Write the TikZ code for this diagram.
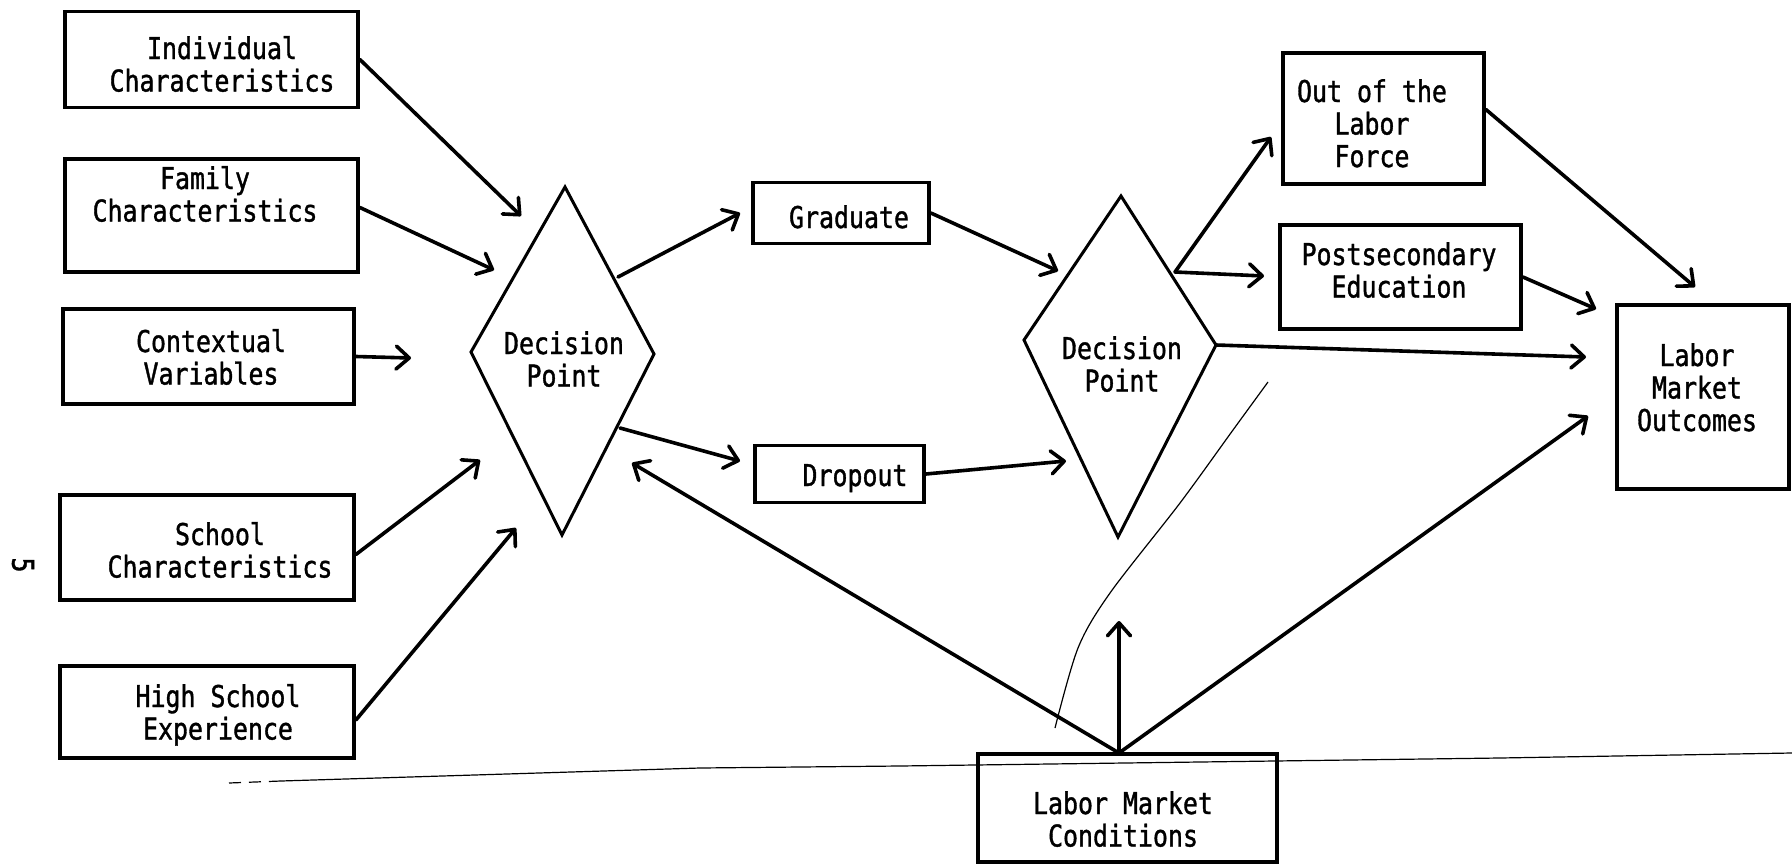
\documentclass[tikz,border=0pt]{standalone}
\usepackage{fontspec}
\usetikzlibrary{arrows.meta}
\newfontfamily\tw[FakeStretch=0.83,FakeBold=1.2]{DejaVu Sans Mono}
\begin{document}
\begin{tikzpicture}[x=1pt,y=-1pt,
  box/.style={draw, line width=3.8pt, inner sep=0pt},
  txt/.style={font={\tw\fontsize{30}{32.5}\selectfont}, align=center, anchor=base, inner sep=0pt},
  arr/.style={line width=3.6pt, line cap=round, -{Straight Barb[length=13pt,width=23pt,round]}},
  dia/.style={draw, line width=3pt, line join=miter},
  faint/.style={line width=1.2pt}]
\useasboundingbox (0,0) rectangle (1792,865);
\fill[white] (0,0) rectangle (1792,865);

% left boxes
\node[box, minimum width=293pt, minimum height=96pt] (ind) at (211.5,59.5) {};
\node[box, minimum width=293pt, minimum height=113pt] (fam) at (211.5,215.5) {};
\node[box, minimum width=291pt, minimum height=95pt] (ctx) at (208.5,356.5) {};
\node[box, minimum width=294pt, minimum height=105pt] (sch) at (207,547.5) {};
\node[box, minimum width=294pt, minimum height=92pt] (hse) at (207,712) {};

% text nodes are placed at the baseline of their last line
\node[txt] (indt) at (222,91.5) {Individual\\Characteristics};
\node[txt] (famt) at (205,221.5) {Family\\Characteristics};
\node[txt] (ctxt) at (211,384.5) {Contextual\\Variables};
\node[txt] (scht) at (220,577.5) {School\\Characteristics};
\node[txt] (hset) at (218,739.5) {High School\\Experience};

% first decision point
\coordinate (d1t) at (565,187);
\coordinate (d1r) at (654,354);
\coordinate (d1b) at (562,535);
\coordinate (d1l) at (471,352);
\draw[dia] (d1t) -- (d1r) -- (d1b) -- (d1l) -- cycle;
\node[txt] (d1) at (564,386.5) {Decision\\Point};

% middle boxes
\node[box, minimum width=176pt, minimum height=61pt] (grad) at (841,213) {};
\node[txt] (gradt) at (849,228) {Graduate};
\node[box, minimum width=169pt, minimum height=57pt] (drop) at (839.5,474) {};
\node[txt] (dropt) at (855,486) {Dropout};

% second decision point
\coordinate (d2t) at (1121,196);
\coordinate (d2r) at (1216,345);
\coordinate (d2b) at (1118,537);
\coordinate (d2l) at (1024,340);
\draw[dia] (d2t) -- (d2r) -- (d2b) -- (d2l) -- cycle;
\node[txt] (d2) at (1122,391.5) {Decision\\Point};

% right boxes
\node[box, minimum width=201pt, minimum height=131pt] (olf) at (1383.5,118.5) {};
\node[txt] (olft) at (1372,167) {Out of the\\Labor\\Force};
\node[box, minimum width=241pt, minimum height=104pt] (pse) at (1400.5,277) {};
\node[txt] (pset) at (1399,297.5) {Postsecondary\\Education};
\node[box, minimum width=172pt, minimum height=184pt] (lmo) at (1703,397) {};
\node[txt] (lmot) at (1697,431) {Labor\\Market\\Outcomes};
\node[box, minimum width=299pt, minimum height=108pt] (lmc) at (1127.5,808) {};
\node[txt] (lmct) at (1123,846.5) {Labor Market\\Conditions};

% page number
\node[font={\tw\fontsize{30}{32}\selectfont}, rotate=-90, inner sep=0pt] (pg) at (23,565) {5};

% arrow tips and start points
\coordinate (tInd) at (521,216);
\coordinate (tFam) at (494,270);
\coordinate (tCtx) at (411,358);
\coordinate (tSch) at (480,460);
\coordinate (tHse) at (516,528);
\coordinate (s1g) at (618,277);
\coordinate (s1d) at (620,428);
\coordinate (tG) at (740,213);
\coordinate (tD) at (740,461);
\coordinate (tL1) at (632,463);
\coordinate (tG2) at (1058,271);
\coordinate (tD2) at (1066,461);
\coordinate (s2) at (1175,272);
\coordinate (tO) at (1271,137);
\coordinate (tP) at (1264,276);
\coordinate (tM) at (1586,357);
\coordinate (tOM) at (1695,287);
\coordinate (tPM) at (1596,309);
\coordinate (tLM) at (1588,416);
\coordinate (tUp) at (1119,621);
\coordinate (lmcT) at (1119,753);

% connectors into first decision point
\draw[arr] (ind.east) -- (tInd);
\draw[arr] ([yshift=8pt]fam.east) -- (tFam);
\draw[arr] (ctx.east) -- (tCtx);
\draw[arr] ([yshift=-7pt]sch.east) -- (tSch);
\draw[arr] ([yshift=-8pt]hse.east) -- (tHse);

% out of first decision point
\draw[arr] (s1g) -- (tG);
\draw[arr] (s1d) -- (tD);
\draw[arr] (grad.east) -- (tG2);
\draw[arr] (drop.east) -- (tD2);

% out of second decision point
\draw[arr] (s2) -- (tO);
\draw[arr] (s2) -- (tP);
\draw[arr] (d2r) -- (tM);
\draw[arr] ([yshift=9pt]olf.east) -- (tOM);
\draw[arr] (pse.east) -- (tPM);

% labor market conditions
\draw[arr] (lmcT) -- (tL1);
\draw[arr] (lmcT) -- (tUp);
\draw[arr] (lmcT) -- (tLM);

% faint scan lines
\draw[faint] plot[smooth] coordinates {(1268,382) (1233,430) (1180,503) (1110,593) (1078,648) (1055,728)};
\draw[faint, dash pattern=on 12pt off 8pt] (229,783) -- (281,781);
\draw[faint] (281,781) -- (700,768) -- (900,766) -- (1500,758) -- (1792,753);
\end{tikzpicture}
\end{document}
